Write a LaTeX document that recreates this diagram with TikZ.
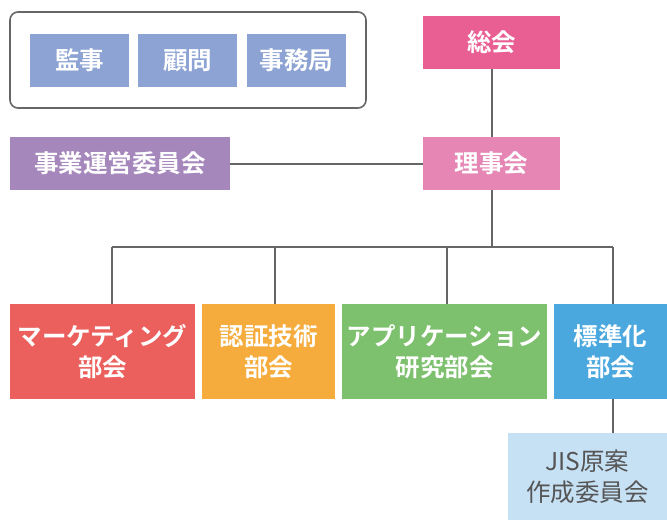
\documentclass[tikz,border=0pt]{standalone}
\usepackage{fontspec}
\setmainfont{Noto Sans CJK JP}[BoldFont={Noto Sans CJK JP Bold}]
\definecolor{lineC}{HTML}{666666}
\definecolor{cKan}{HTML}{8CA3D3}
\definecolor{cSokai}{HTML}{E95E93}
\definecolor{cRiji}{HTML}{E586B4}
\definecolor{cJigyo}{HTML}{A587BC}
\definecolor{cMkt}{HTML}{EB605C}
\definecolor{cNin}{HTML}{F5AC3C}
\definecolor{cApp}{HTML}{7DC06E}
\definecolor{cStd}{HTML}{4AA8DE}
\definecolor{cJis}{HTML}{C6E0F4}
\definecolor{tJis}{HTML}{555555}
\begin{document}
\begin{tikzpicture}[x=1pt,y=-1pt,
  box/.style={inner sep=0pt, text=white, font=\fontsize{24.5}{31}\selectfont\bfseries, align=center, minimum height=53pt},
  conn/.style={draw=lineC, line width=2pt}]
\useasboundingbox (0,0) rectangle (667,520);
\draw[lineC, line width=1.6pt, rounded corners=8pt] (10,12) rectangle (366,108);
\node[box, fill=cKan, minimum width=99pt] (kanji) at (79.5,60.5) {監事};
\node[box, fill=cKan, minimum width=99pt] (komon) at (187.5,60.5) {顧問};
\node[box, fill=cKan, minimum width=99pt] (jimu) at (296.5,60.5) {事務局};
\node[box, fill=cSokai, minimum width=137pt] (sokai) at (491.5,42.5) {総会};
\node[box, fill=cRiji, minimum width=137pt] (riji) at (491.5,163.5) {理事会};
\node[box, fill=cJigyo, minimum width=220pt] (jigyo) at (120,163.5) {事業運営委員会};
\node[box, fill=cMkt, minimum width=185pt, minimum height=95pt] (mkt) at (102.5,351.5) {マーケティング\\部会};
\node[box, fill=cNin, minimum width=133pt, minimum height=95pt] (nin) at (268.5,351.5) {認証技術\\部会};
\node[box, fill=cApp, minimum width=205pt, minimum height=95pt] (app) at (444.5,351.5) {アプリケーション\\研究部会};
\node[box, fill=cStd, minimum width=113pt, minimum height=95pt] (std) at (610.5,351.5) {標準化\\部会};
\node[box, fill=cJis, text=tJis, font=\fontsize{24.5}{31}\selectfont, minimum width=159pt, minimum height=87pt] (jis) at (587.5,476.5) {JIS原案\\作成委員会};
\coordinate (bm) at (491.5,246.5);
\coordinate (b1) at (112,246.5);
\coordinate (b2) at (275,246.5);
\coordinate (b3) at (447,246.5);
\coordinate (b4) at (613,246.5);
\draw[conn] (sokai) -- (riji);
\draw[conn] (jigyo) -- (riji);
\draw[conn] (riji) -- (bm);
\draw[conn] (b1) -- (b4);
\draw[conn] (b1) -- (b1 |- mkt.north);
\draw[conn] (b2) -- (b2 |- nin.north);
\draw[conn] (b3) -- (b3 |- app.north);
\draw[conn] (b4) -- (b4 |- std.north);
\draw[conn] (b4 |- std.south) -- (b4 |- jis.north);
\end{tikzpicture}
\end{document}
